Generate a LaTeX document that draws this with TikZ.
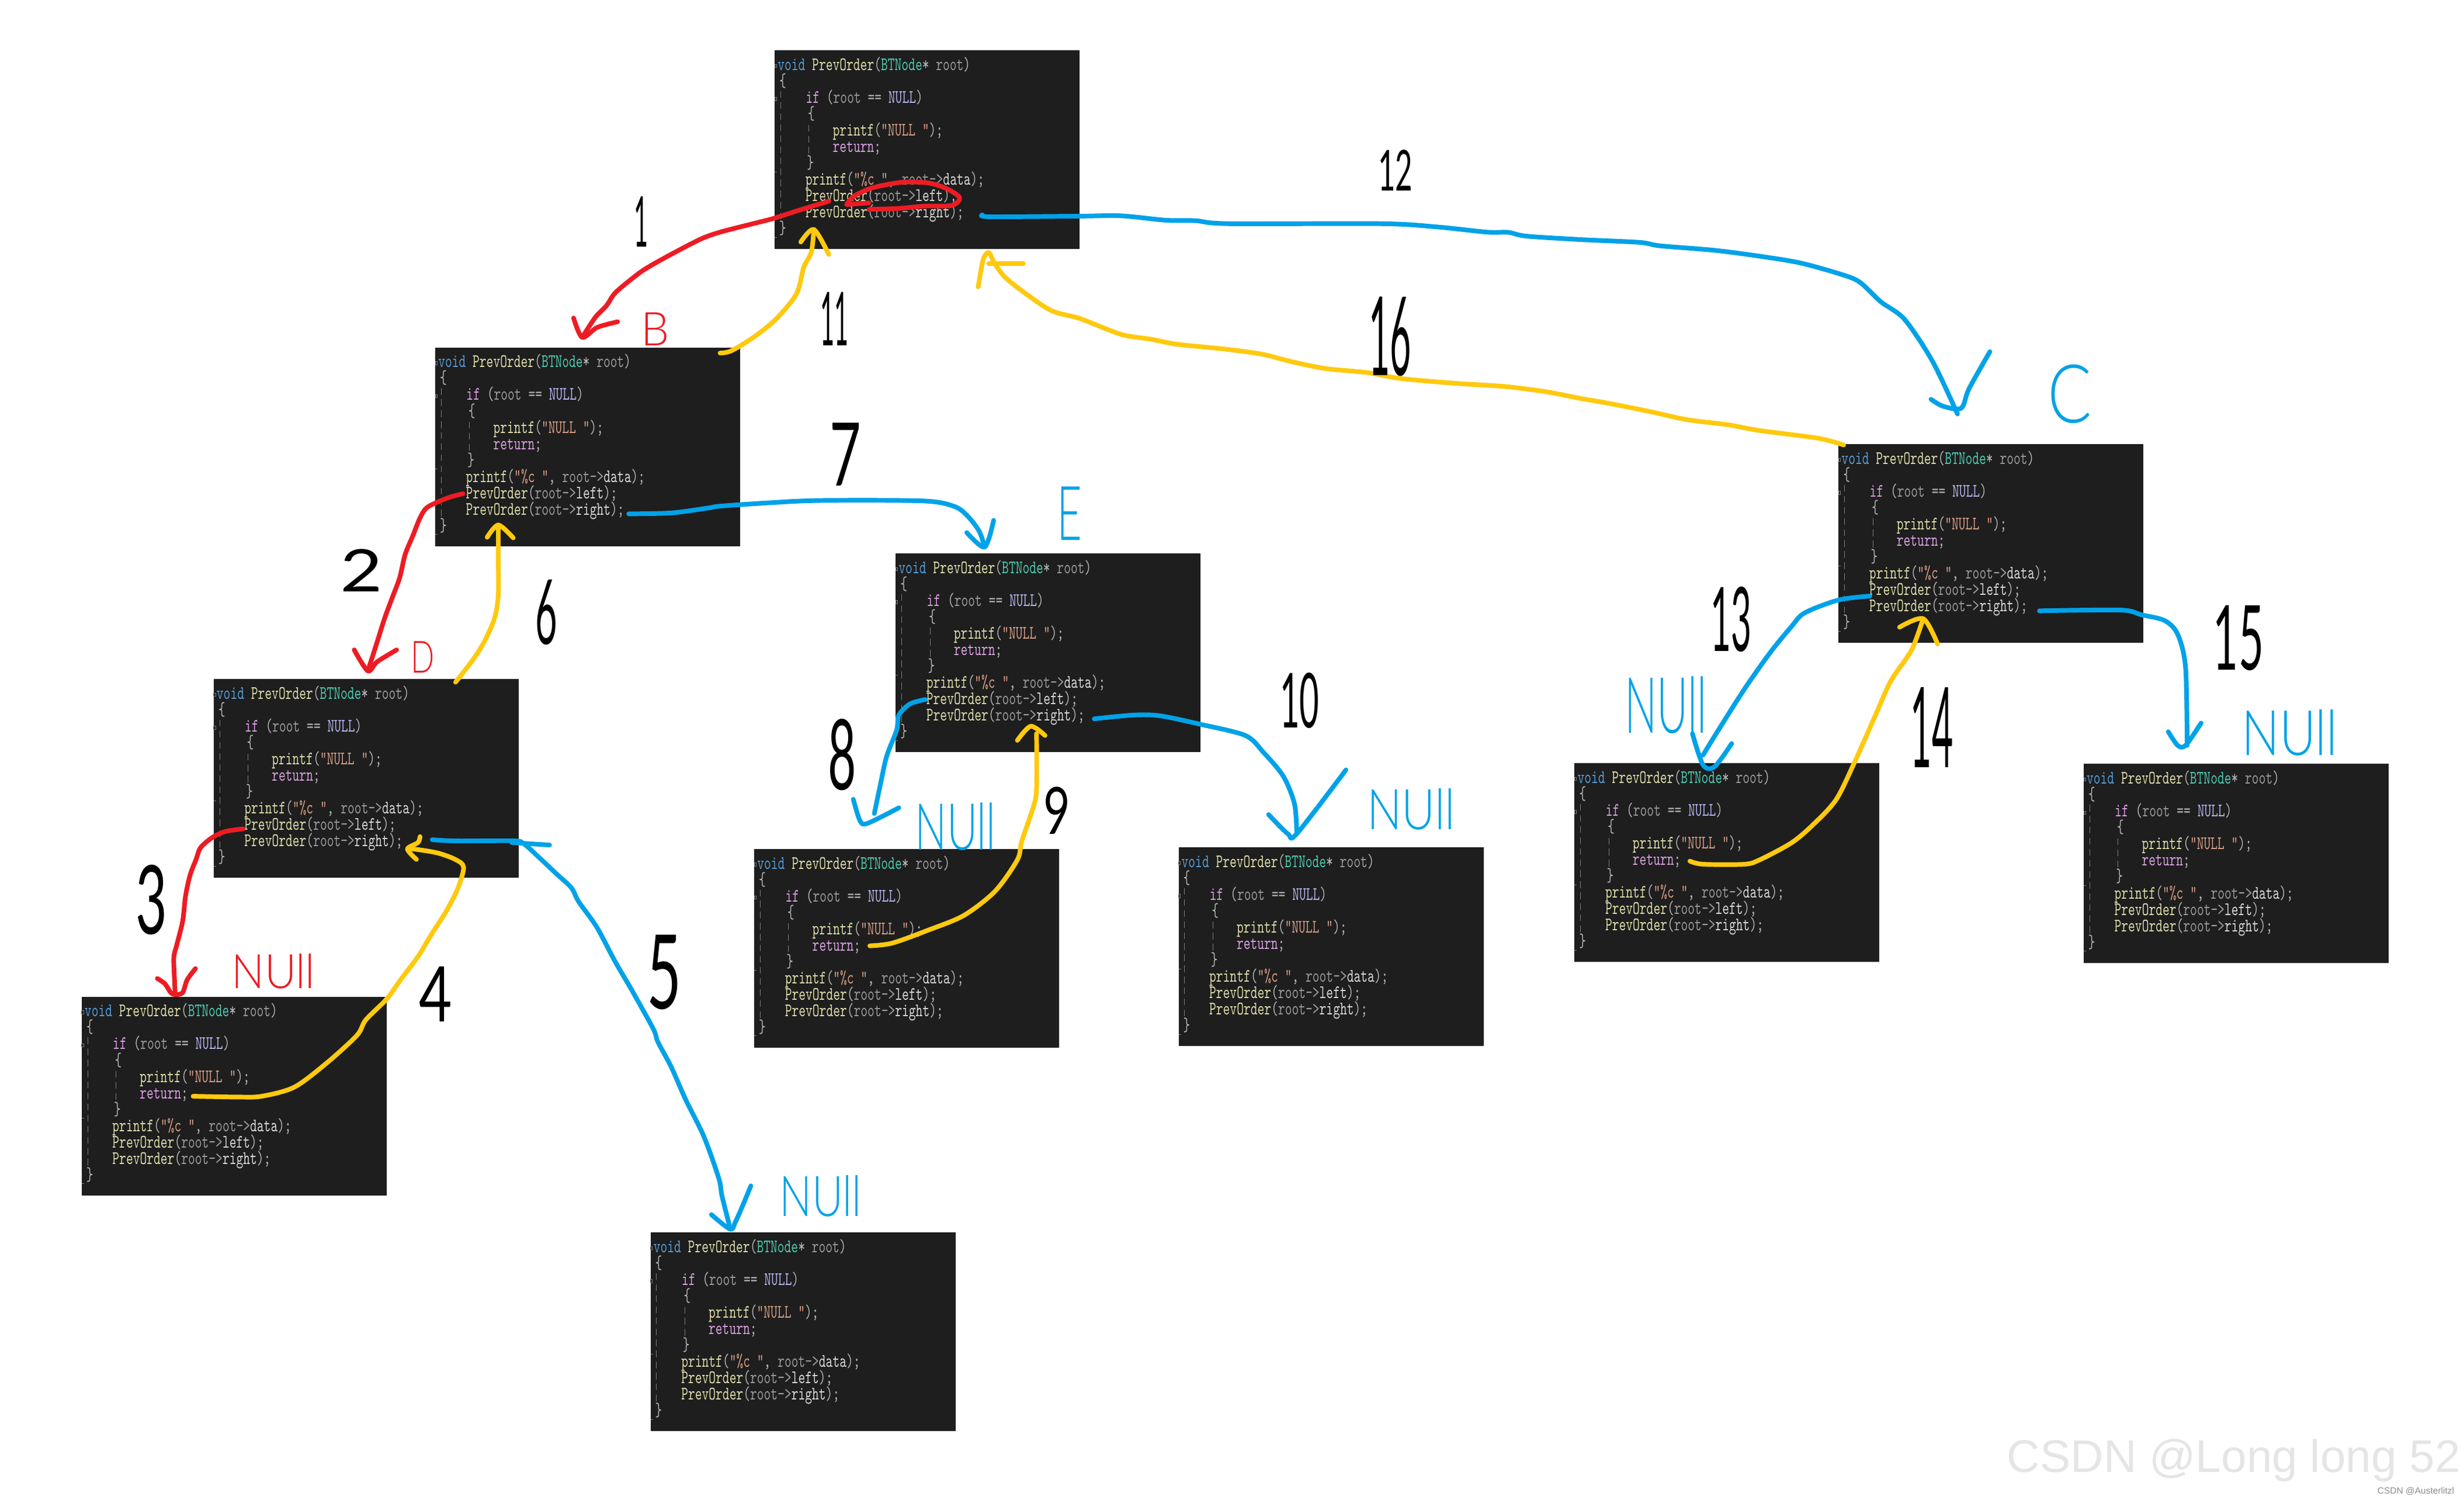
\documentclass[tikz,border=0pt]{standalone}
\usepackage{fontspec}
\setmainfont{Liberation Sans}
\newfontfamily\codefont[FakeStretch=.69]{lmmono10-regular.otf}
\newfontfamily\handfont{Lato}
\newfontfamily\handlight{Lato Light}
\definecolor{codebg}{HTML}{1E1E1E}
\definecolor{cvoid}{HTML}{569CD6}
\definecolor{cfunc}{HTML}{DCDCAA}
\definecolor{ctype}{HTML}{4EC9B0}
\definecolor{cname}{HTML}{9A9A9A}
\definecolor{ckey}{HTML}{D8A0DF}
\definecolor{cnull}{HTML}{B4B4F0}
\definecolor{cstr}{HTML}{D69D85}
\definecolor{cpunc}{HTML}{B4B4B4}
\definecolor{redink}{HTML}{ED1C24}
\definecolor{blueink}{HTML}{00A2E8}
\definecolor{yellowink}{HTML}{FFC90E}
\newlength\hu
\setlength\hu{.025cm}
\newcommand{\hw}[3]{\resizebox{#1\hu}{#2\hu}{#3}}
\newcommand{\pf}[1]{\textcolor{cfunc}{#1}}
\newcommand{\pp}[1]{\textcolor{cpunc}{#1}}
\newcommand{\codetext}{\parbox[t][3.1625cm][t]{4.85cm}{\codefont\fontsize{8.6}{7.41}\selectfont\parindent=0pt\lineskiplimit=-20pt\rule{0pt}{9.1pt}%
\hspace*{1.35pt}\textcolor{cvoid}{void} \pf{PrevOrder}\pp{(}\textcolor{ctype}{BTNode}\pp{*} \textcolor{cname}{root}\pp{)}\par
\hspace*{2.1pt}\pp{\{}\par
\hspace*{14.1pt}\textcolor{ckey}{if} \pp{(}\textcolor{cname}{root} \pp{==} \textcolor{cnull}{NULL}\pp{)}\par
\hspace*{15pt}\pp{\{}\par
\hspace*{26.3pt}\pf{printf}\pp{(}\textcolor{cstr}{"NULL "}\pp{);}\par
\hspace*{26.3pt}\textcolor{ckey}{return}\pp{;}\par
\hspace*{14.6pt}\pp{\}}\par
\hspace*{13.9pt}\pf{printf}\pp{(}\textcolor{cstr}{"\%c "}\pp{,} \textcolor{cname}{root->}\textcolor{white!85!black}{data}\pp{);}\par
\hspace*{13.9pt}\pf{PrevOrder}\pp{(}\textcolor{cname}{root->}\textcolor{white!85!black}{left}\pp{);}\par
\hspace*{13.9pt}\pf{PrevOrder}\pp{(}\textcolor{cname}{root->}\textcolor{white!85!black}{right}\pp{);}\par
\hspace*{2.1pt}\pp{\}}}}
\tikzset{
  codebox/.style={anchor=north west,fill=codebg,inner sep=0pt,outer sep=0pt},
  guide/.style={densely dashed,gray,line width=.25pt},
  fold/.style={gray,line width=.25pt},
  ink/.style={line width=2.1pt,line cap=round,line join=round,smooth,tension=.5},
  redstroke/.style={ink,draw=redink},
  bluestroke/.style={ink,draw=blueink},
  yellowstroke/.style={ink,draw=yellowink},
  hand/.style={inner sep=0pt,font=\handfont\fontsize{30}{30}\selectfont},
  handnull/.style={inner sep=0pt,font=\handlight\fontsize{30}{30}\selectfont}
}
\begin{document}
\begin{tikzpicture}[x=0.025cm,y=-0.025cm]
    \useasboundingbox (0,0) rectangle (1568,954.2);
    % code windows
    \foreach \nm/\px/\py in {nodeA/493/32,nodeB/277/221,nodeD/136/432,nullDl/52/634,nullDr/414/784,nodeE/570/352,nullEl/480/540,nullEr/750/539,nodeC/1170/282.5,nullCl/1002/485.5,nullCr/1326/486}{
        \node[codebox] (\nm) at (\px,\py) {\codetext};
        \draw[guide] ([shift={(3.8,26)}]\nm.north west) -- ([shift={(3.8,108)}]\nm.north west);
        \draw[guide] ([shift={(21.8,47.4)}]\nm.north west) -- ([shift={(21.8,66)}]\nm.north west);
        \draw[fold] ([shift={(0,9)}]\nm.north west) rectangle ([shift={(1.2,11)}]\nm.north west);
        \draw[fold] ([shift={(0,30)}]\nm.north west) rectangle ([shift={(1.2,32)}]\nm.north west);
        \draw[fold] ([shift={(0,77.4)}]\nm.north west) -- ([shift={(1.5,77.4)}]\nm.north west);
        \draw[fold] ([shift={(0,119)}]\nm.north west) -- ([shift={(1.5,119)}]\nm.north west);
    }
    % ends of the strokes
    \coordinate (tailA) at (527.5,128);
    \coordinate (tipB) at (370.5,214.6);
    \coordinate (tailB) at (294.6,314.1);
    \coordinate (tipD) at (234.1,426.8);
    \coordinate (tailD) at (154.7,527.3);
    \coordinate (tipDl) at (111.5,632.7);
    \coordinate (tailDl) at (122.9,697.4);
    \coordinate (backD) at (259.3,540.1);
    \coordinate (tailDr) at (275,534.2);
    \coordinate (tipDr) at (464.7,782);
    \coordinate (tailDb) at (289.9,434);
    \coordinate (backB) at (317.1,334);
    \coordinate (tailE) at (400.1,326.9);
    \coordinate (tipE) at (626.6,348);
    \coordinate (tailEl) at (589,445);
    \coordinate (tipEl) at (556.4,517.5);
    \coordinate (tailEb) at (553.5,601.7);
    \coordinate (backE) at (655.9,462);
    \coordinate (tailEr) at (696.3,457.3);
    \coordinate (tipEr) at (825.2,530.4);
    \coordinate (tailBb) at (458.2,224.6);
    \coordinate (backA) at (517.9,146);
    \coordinate (tailC) at (625.1,136.7);
    \coordinate (tipC) at (1245.7,263.4);
    \coordinate (tailCb) at (1173.2,283.1);
    \coordinate (backAr) at (629.2,160.6);
    \coordinate (tailCl) at (1189.9,379.2);
    \coordinate (tipCl) at (1083.7,480.4);
    \coordinate (tailClb) at (1075.4,547.8);
    \coordinate (backC) at (1223.8,393.6);
    \coordinate (tailCr) at (1297.8,388.6);
    \coordinate (tipCr) at (1391.8,474.2);
    % red strokes
    \draw[redstroke] plot coordinates {(538.8,130.1) (543,125.1) (553,120.2) (563,117.7) (575.8,115.8) (591.4,116.5) (602.8,120.2) (610.7,125.8) (605.7,130.7) (588.6,131.1) (571.5,132.6) (553,133.2)}; % ring
    \draw[redstroke] (538.8,130.1) -- (553,129.1);
    \draw[redstroke] plot coordinates {(tailA) (508,133.9) (491.4,139.2) (474.8,143.4) (458.2,147.7) (446.3,151.9) (429.7,160.4) (414.3,168.9) (406,174.3) (391.8,186) (385.9,194.5) (378.8,201.9) (tipB)}; % 1
    \draw[redstroke] plot coordinates {(365,202.3) (tipB) (380,208.3) (393,204.7)};
    \draw[redstroke] plot coordinates {(tailB) (285.1,316.7) (272.1,322.6) (267.3,329.5) (262.6,341.1) (257.8,352.8) (254.3,367.7) (249.5,380.5) (244.8,393.2) (240.1,408.1) (tipD)}; % 2
    \draw[redstroke] plot coordinates {(225.4,413.4) (tipD) (240,421) (252.4,413.4)};
    \draw[redstroke] plot coordinates {(tailD) (143.7,528.9) (135.2,532.7) (127.6,539.3) (124.8,546.7) (121,556.6) (118.1,569.8) (116.2,586.2) (112.5,601.1) (110.6,609.3) (111.1,624.1) (tipDl)}; % 3
    \draw[redstroke] plot coordinates {(100.1,622.5) (104.9,625.8) (108.7,631.5) (tipDl) (116.2,631.5) (119.1,623.3) (124.4,616.2)};
    % yellow strokes
    \draw[yellowstroke] plot coordinates {(tailDl) (151.3,697.9) (166.5,697.4) (187.3,691.6) (208.2,676) (227.1,658.7) (232.8,648.8) (246,635.6) (255.5,622.5) (266,608.5) (274.5,594.5) (284,579.6) (291.5,564.8) (295,551.6) (289.6,546.7) (278.3,542.6) (263.1,540.1) (backD)}; % 4
    \draw[yellowstroke] plot coordinates {(267.3,532.2) (266,536) (backD) (265,546.7)};
    \draw[yellowstroke] plot coordinates {(tailDb) (301.7,418.7) (308.8,407) (314.8,393) (317.1,378.4) (317.1,355) (backB)}; % 6
    \draw[yellowstroke] plot coordinates {(310,341.8) (backB) (326.6,342.2)};
    \draw[yellowstroke] plot coordinates {(tailEb) (567.7,600) (590.5,591.8) (613.3,582.4) (633.2,567) (647.4,547) (650.2,535.2) (657.4,513.9) (659.6,502.1) (659.6,466.7)}; % 9
    \draw[yellowstroke] plot coordinates {(647.4,471) (backE) (665,467.9)};
    \draw[yellowstroke] plot coordinates {(tailBb) (465.3,223.2) (479.5,214.6) (493.8,203) (506.8,187) (511.5,170) (516.3,160.4) (backA)}; % 11
    \draw[yellowstroke] plot coordinates {(509.6,154) (backA) (527.4,161.9)};
    \draw[yellowstroke] plot coordinates {(tailClb) (1083.7,549.8) (1110.2,549.8) (1120.2,546.8) (1140,536.2) (1153.4,525) (1168.3,508.9) (1180,485.3) (1193.2,455.6) (1203.2,433.3) (1216.5,413.4) (backC)}; % 14
    \draw[yellowstroke] plot coordinates {(1208.8,399) (backC) (1233,409.7)};
    \draw[yellowstroke] plot coordinates {(tailCb) (1157,278.8) (1119.1,273.8) (1100.1,270.3) (1073.6,267) (1050.8,262) (1024.3,256.7) (1005.3,253.4) (984.4,249.3) (957.9,245.9) (926.7,243.9) (891.2,240.8) (869.8,237) (843.8,234.5) (822.4,230.2) (803.4,225.4) (779.7,222.1) (748.9,219) (732.3,215.8) (713.4,212.7) (687.3,202.7) (669.5,197.8) (654.1,187.8) (639.8,176.6) (632.7,167.2) (backAr) (625.6,165.3) (622.5,182.5)}; % 16
    \draw[yellowstroke] (629.2,167.8) -- (651.2,167.8);
    % blue strokes
    \draw[bluestroke] plot coordinates {(tailDr) (290.6,535) (326.6,534.9) (333.2,536.7) (343.7,546.1) (354.1,555.9) (363.6,564.8) (368.3,573.7) (379.7,589.7) (391.1,611.1) (402.5,630.7) (415.8,654.7) (418.6,662.7) (427.1,678.7) (436.6,700.1) (448,723.2) (457.5,749.9) (459.4,760.6) (464.1,779.3)}; % 5
    \draw[bluestroke] (325.6,536) -- (349.7,537.6);
    \draw[bluestroke] plot coordinates {(452.7,772.7) (tipDr) (467.9,777.5) (472.7,766.8) (477.8,754.4)};
    \draw[bluestroke] plot coordinates {(tailE) (427.4,326.3) (451.1,323.1) (458.2,322) (489,319.9) (522.2,318.4) (587.6,318.7) (607.6,322.3) (616.1,328.7) (623.2,338.1) (tipE)}; % 7
    \draw[bluestroke] plot coordinates {(615.2,338.8) (tipE) (632.3,331)};
    \draw[bluestroke] plot coordinates {(tailEl) (579.1,447.8) (572,454.9) (570.6,464.4) (564.3,480.9) (560.6,497.4) (tipEl)}; % 8
    \draw[bluestroke] plot coordinates {(543,508.5) (547.3,522.2) (552,523.8) (572,513.9)};
    \draw[bluestroke] plot coordinates {(tailEr) (721.4,454.9) (738.4,455.4) (764,460.8) (792.5,467.9) (803.9,478.5) (816.7,493.9) (823.8,511.6) (tipEr)}; % 10
    \draw[bluestroke] plot coordinates {(807.3,518.2) (819.5,530.4) (tipEr) (856.5,489.8)};
    \draw[bluestroke] plot coordinates {(tailC) (630.4,137.9) (687.3,137.5) (713.4,137.3) (741.8,140.1) (760.8,140.4) (782.1,142.3) (879.3,142.3) (914.9,144.4) (946.5,147.7) (959.8,147.8) (971.1,150.2) (1005.3,152.4) (1043.2,154.2) (1056.5,156.4) (1090.6,159.2) (1119.1,162.9) (1145.7,167.3) (1172.2,174.7) (1183.6,179.6) (1196.9,192) (1212,203.2) (1229.8,229.9) (tipC)}; % 12
    \draw[bluestroke] plot coordinates {(1228.8,254) (1236.4,258.4) (1248,259.7) (1253,247.3) (1266.3,223.7)};
    \draw[bluestroke] plot coordinates {(tailCl) (1170,381.7) (1148.4,389.9) (1140.1,398.5) (1126.8,414.7) (1110.2,438.2) (1093.6,464.3) (tipCl)}; % 13
    \draw[bluestroke] plot coordinates {(1077,466.7) (1083.7,486.6) (1091,487.8) (1102,473)};
    \draw[bluestroke] plot coordinates {(tailCr) (1349.3,388.1) (1362.6,391.1) (1377.5,394.8) (1385.8,403.5) (1390.8,424.6) (tipCr)}; % 15
    \draw[bluestroke] plot coordinates {(1379.8,465.5) (1385.8,474.2) (1390.8,474.2) (1400.7,460)};
    % letters above the windows
    \node[handnull,text=redink] (letB) at (417,209.5) {\hw{18}{21}{B}};
    \node[handnull,text=redink] (letD) at (269,418) {\hw{15}{20}{D}};
    \node[handnull,text=blueink] (letE) at (680.6,326.6) {\hw{16}{34}{E}};
    \node[handnull,text=blueink] (letC) at (1317,250.5) {\hw{28}{37}{C}};
    \node[handnull,text=redink] (nullredDl) at (174,618) {\hw{53}{22}{NUll}};
    \node[handnull,text=blueink] (nullblueDr) at (522.2,761) {\hw{52}{26}{NUll}};
    \node[handnull,text=blueink] (nullblueEl) at (608,525.7) {\hw{51}{30}{NUll}};
    \node[handnull,text=blueink] (nullblueEr) at (898,515) {\hw{56}{26}{NUll}};
    \node[handnull,text=blueink] (nullblueCl) at (1060,448.5) {\hw{52}{36}{NUll}};
    \node[handnull,text=blueink] (nullblueCr) at (1457,466) {\hw{61}{29}{NUll}};
    % step numbers
    \node[hand] (one) at (408,141) {\hw{9}{32}{1}};
    \node[hand] (two) at (230,363) {\hw{27}{27}{2}};
    \node[hand] (three) at (96.6,572.4) {\hw{20}{44}{3}};
    \node[hand] (four) at (277.3,632.3) {\hw{21}{35}{4}};
    \node[hand] (five) at (422.6,618.4) {\hw{22}{47}{5}};
    \node[hand] (six) at (347.6,389.5) {\hw{14}{41}{6}};
    \node[hand] (seven) at (538,289) {\hw{20}{40}{7}};
    \node[hand] (eight) at (536,480) {\hw{18}{45}{8}};
    \node[hand] (nine) at (672.5,515.5) {\hw{17}{30}{9}};
    \node[hand] (ten) at (827,445.5) {\hw{25}{35}{10}};
    \node[hand] (eleven) at (531,203) {\hw{18}{34}{11}};
    \node[hand] (twelve) at (888,108.5) {\hw{22}{26}{12}};
    \node[hand] (thirteen) at (1101.6,394) {\hw{26}{41}{13}};
    \node[hand] (fourteen) at (1229.4,462.6) {\hw{27}{51}{14}};
    \node[hand] (fifteen) at (1424.5,406) {\hw{32}{41}{15}};
    \node[hand] (sixteen) at (884.6,214) {\hw{27}{50}{16}};
    % watermark
    \node[inner sep=0pt,anchor=south east,text=black!10,font=\fontsize{20.7}{20.7}\selectfont] (wmark) at (1566,943) {CSDN @Long long 52};
    \node[inner sep=0pt,anchor=east,text=black!45,font=\fontsize{4.1}{4.1}\selectfont] (wmarkb) at (1562,948.8) {CSDN @Austerlitzl};
\end{tikzpicture}
\end{document}
